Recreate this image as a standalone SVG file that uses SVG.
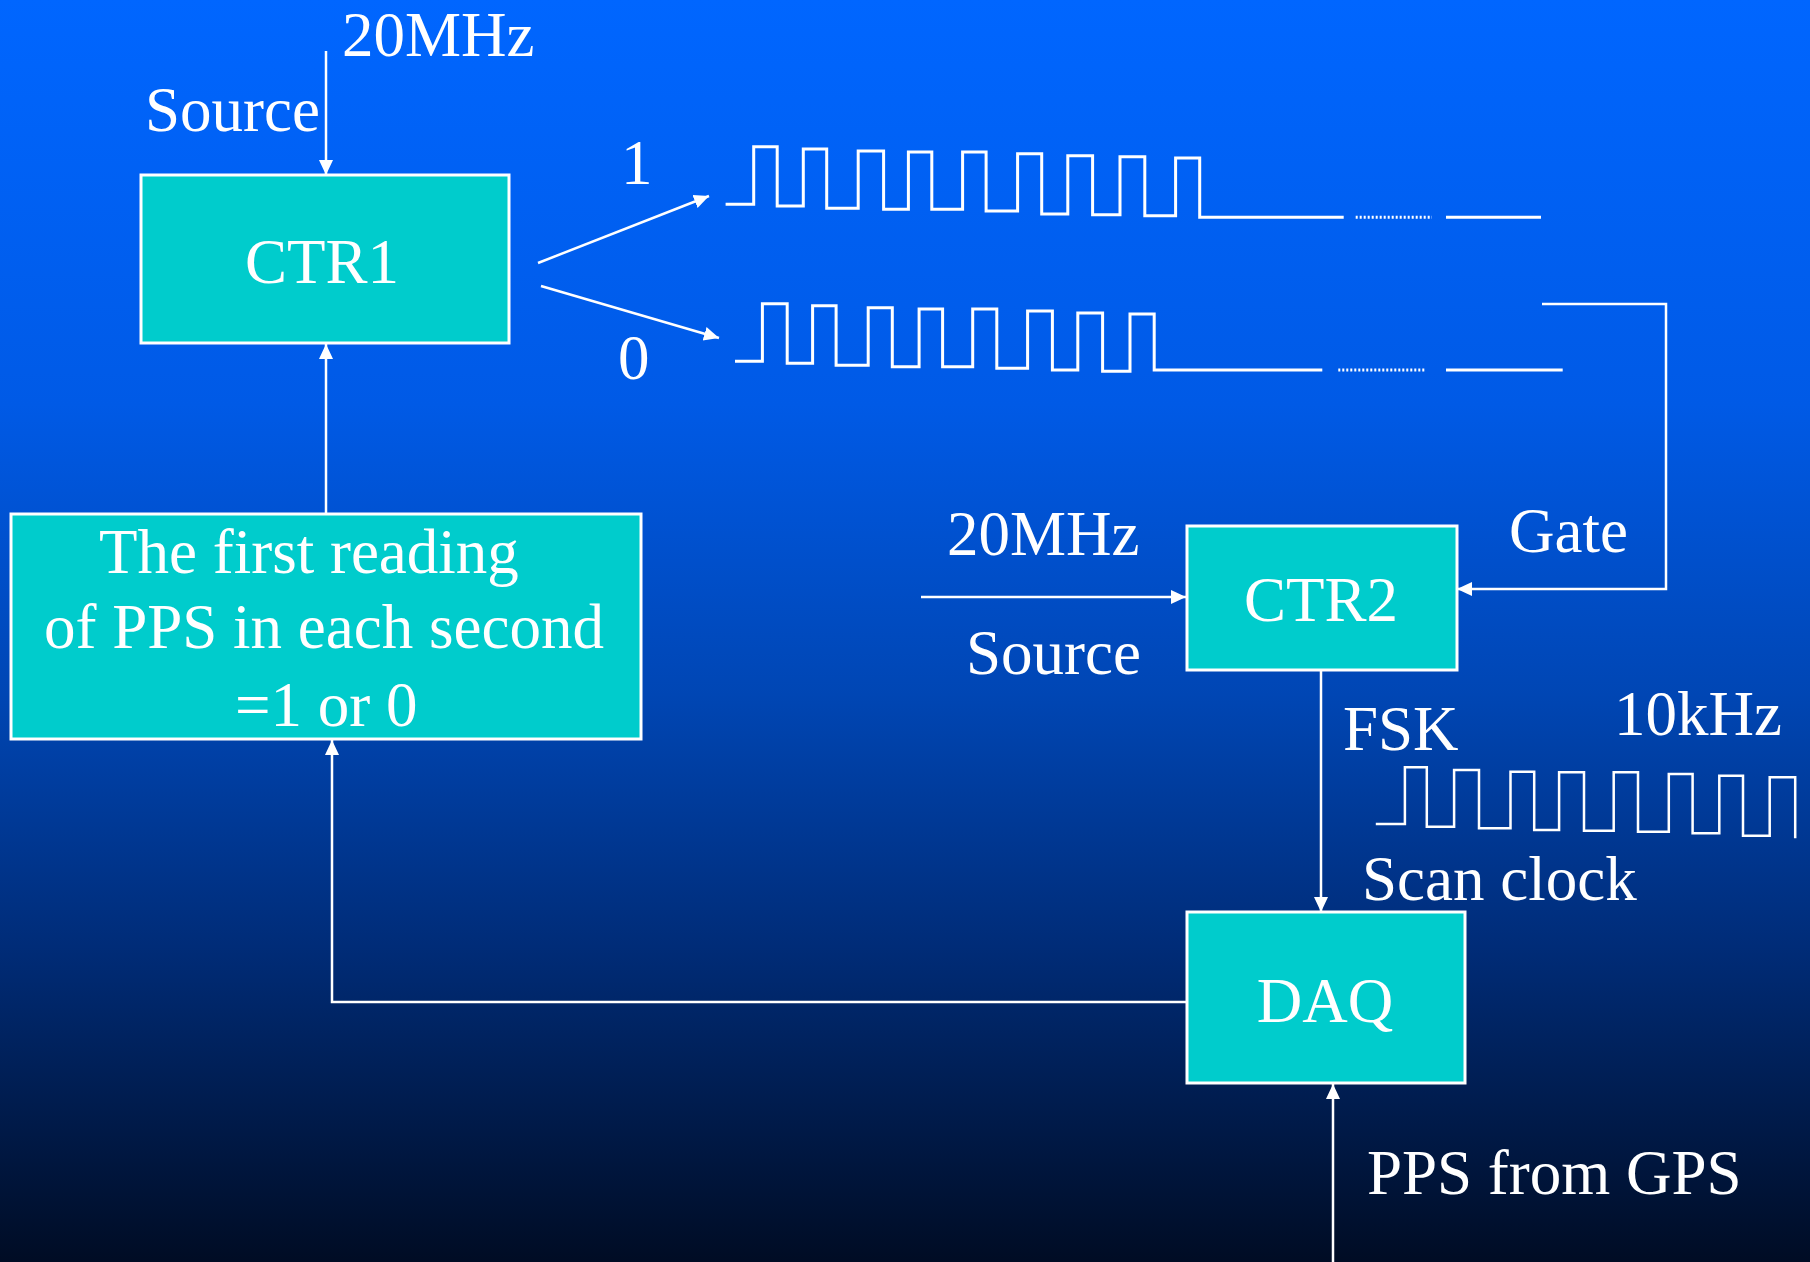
<svg xmlns="http://www.w3.org/2000/svg" width="1810" height="1262" viewBox="0 0 1810 1262">
  <defs>
    <linearGradient id="bg" x1="0" y1="0" x2="0" y2="1">
      <stop offset="0" stop-color="#0066FF"/>
      <stop offset="0.32" stop-color="#005AE6"/>
      <stop offset="0.55" stop-color="#0046B4"/>
      <stop offset="0.75" stop-color="#002C78"/>
      <stop offset="1" stop-color="#000C24"/>
    </linearGradient>
    <marker id="arrow" markerUnits="userSpaceOnUse" viewBox="0 0 15 16" markerWidth="15" markerHeight="16" refX="15" refY="8" orient="auto">
      <path d="M0,1 L15,8 L0,15 Z" fill="#FFFFFF"/>
    </marker>
    <style>
      .box { fill: #00CCCC; stroke: #FFFFFF; stroke-width: 3; }
      .lbl { font-family: "Liberation Serif", "Times New Roman", serif; font-size: 63px; fill: #FFFFFF; }
      .mid { text-anchor: middle; }
      .conn { fill: none; stroke: #FFFFFF; stroke-width: 2.5; marker-end: url(#arrow); }
      .wave { fill: none; stroke: #FFFFFF; stroke-width: 3; stroke-linejoin: miter; }
      .dots { fill: none; stroke: #FFFFFF; stroke-width: 3; stroke-dasharray: 2 2; }
    </style>
  </defs>

  <rect x="0" y="0" width="1810" height="1262" fill="url(#bg)"/>

  <g id="connectors">
    <path class="conn" d="M326,51 V175"/>
    <path class="conn" d="M538,263 L709,196"/>
    <path class="conn" d="M541,286 L719,338"/>
    <path class="conn" d="M1542,304 H1666 V589 H1457"/>
    <path class="conn" d="M921,597 H1186"/>
    <path class="conn" d="M1321,670 V912"/>
    <path class="conn" d="M1187,1002 H332 V740"/>
    <path class="conn" d="M326,514 V344"/>
    <path class="conn" d="M1333,1262 V1084"/>
  </g>

  <g id="waveforms">
    <path class="wave" d="M725.6,204.3 H753.7 V146.7 H777.2 V206 H803.3 V149 H826.7 V208.3 H858.2 V151 H883.6 V209.3 H908.4 V152 H931.8 V209.3 H962.6 V152 H986.1 V211 H1017.6 V153.7 H1041.7 V214 H1067.8 V155.7 H1092.6 V214.7 H1120 V156.7 H1144.8 V215.7 H1175.6 V158 H1199.7 V217.3 H1343.7"/>
    <path class="dots" d="M1355.7,217.3 H1432"/>
    <path class="wave" d="M1446,217.3 H1541"/>

    <path class="wave" d="M735,361.3 H762.4 V303.7 H787.2 V363.3 H812.6 V305.7 H836.1 V365.3 H868.2 V307.7 H892.3 V366.7 H919.1 V309 H942.6 V366.7 H972.7 V309 H996.8 V368.3 H1027.6 V311 H1052.4 V370 H1077.8 V313 H1102.6 V371.3 H1130 V314 H1154.2 V370 H1322.3"/>
    <path class="dots" d="M1338.3,370 H1425.4"/>
    <path class="wave" d="M1446,370 H1562.7"/>

    <path class="wave" style="stroke-width:2.5" d="M1375.8,824 H1404.9 V767.3 H1426.8 V826.7 H1454.1 V770 H1479 V828.3 H1510.5 V771.7 H1534.2 V830 H1559.1 V772.3 H1584 V830.7 H1613.7 V772.3 H1638 V831.7 H1668.8 V774 H1692.6 V833.3 H1719.3 V775.7 H1743 V835.7 H1769.7 V777.3 H1795.2 V838.3"/>
  </g>

  <g id="ctr1">
    <rect class="box" x="141" y="175" width="368" height="168"/>
    <text class="lbl mid" x="322" y="283">CTR1</text>
  </g>

  <g id="reading">
    <rect class="box" x="11" y="514" width="630" height="225"/>
    <text class="lbl" x="99" y="573">The first reading</text>
    <text class="lbl" x="44" y="648">of PPS in each second</text>
    <text class="lbl" x="235" y="726">=1 or 0</text>
  </g>

  <g id="ctr2">
    <rect class="box" x="1187" y="526" width="270" height="144"/>
    <text class="lbl mid" x="1321" y="621">CTR2</text>
  </g>

  <g id="daq">
    <rect class="box" x="1187" y="912" width="278" height="171"/>
    <text class="lbl mid" x="1325" y="1022">DAQ</text>
  </g>

  <g id="labels">
    <text class="lbl" x="342" y="56">20MHz</text>
    <text class="lbl" x="145" y="131">Source</text>
    <text class="lbl" x="621" y="184">1</text>
    <text class="lbl" x="618" y="379">0</text>
    <text class="lbl" x="947" y="555">20MHz</text>
    <text class="lbl" x="966" y="674">Source</text>
    <text class="lbl" x="1509" y="552">Gate</text>
    <text class="lbl" x="1343" y="750">FSK</text>
    <text class="lbl" x="1614" y="735">10kHz</text>
    <text class="lbl" x="1362" y="900">Scan clock</text>
    <text class="lbl" x="1367" y="1194">PPS from GPS</text>
  </g>
</svg>
